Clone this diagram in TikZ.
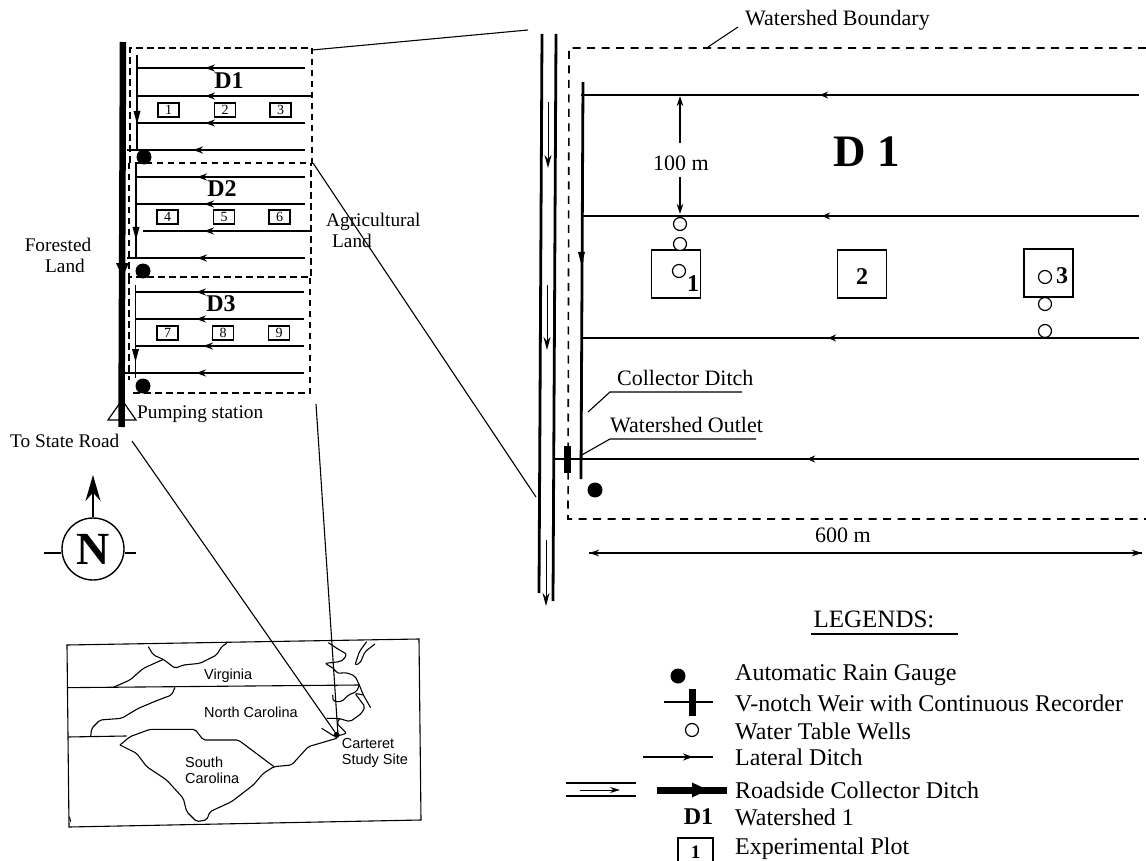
\documentclass[tikz,border=0pt]{standalone}
\usepackage{fontspec}
\setmainfont{Liberation Serif}
\newfontfamily\mapfont{Liberation Sans}
\usetikzlibrary{arrows.meta}

\tikzset{
  ditch/.style={line width=1.9pt},
  bigditch/.style={line width=2.8pt},
  boundary/.style={line width=1.2pt,dash pattern=on 6.5pt off 4.5pt},
  bigboundary/.style={line width=1.6pt,dash pattern=on 8pt off 6.5pt},
  lefttip/.style={-{Stealth[length=10pt,width=7pt]}},
  dimtip/.style={line width=1.2pt,-{Stealth[length=10pt,width=6.5pt]}},
  leader/.style={line width=1.1pt},
  plotbox/.style={draw,line width=1.1pt,inner sep=0pt,minimum width=21pt,minimum height=14pt,font=\fontsize{14}{15}\selectfont},
  bigplot/.style={draw,line width=1.2pt,inner sep=0pt,minimum width=49pt,minimum height=48pt},
  well/.style={draw,fill=white,circle,line width=1.2pt,inner sep=0pt,minimum size=13pt},
  gauge/.style={fill=black,circle,inner sep=0pt,minimum size=15pt},
  lbl/.style={inner sep=0pt,font=\fontsize{19.3}{21}\selectfont},
  wlbl/.style={lbl,anchor=west},
  rlbl/.style={inner sep=0pt,anchor=west,font=\fontsize{22}{24}\selectfont},
  dlbl/.style={inner sep=0pt,font=\fontsize{24}{25}\selectfont\bfseries},
  numlbl/.style={inner sep=0pt,font=\fontsize{24}{25}\selectfont\bfseries},
  maplbl/.style={inner sep=0pt,anchor=west,font=\fontsize{14.5}{16}\selectfont\mapfont},
  mapline/.style={line width=1.1pt,rounded corners=2pt,line join=round},
}

\begin{document}
\begin{tikzpicture}[x=1pt,y=-1pt]
  \useasboundingbox (0,0) rectangle (1146,861);

  % overview: watershed boundaries
  \draw[boundary] (130,163) -- (130,48) -- (312,48) -- (312,163) -- cycle;
  \draw[boundary] (129,163) -- (129,277) -- (311,277) -- (311,163);
  \draw[boundary] (133,393) -- (310,393) -- (310,277);
  \draw[boundary] (129,277) -- (129,380);

  % overview: state road
  \draw[line width=6.5pt] (123,42) -- (121.5,427);
  \fill (116,263) -- (129,263) -- (122.5,277) -- cycle;
  \draw[line width=1.2pt] (108,420) -- (122,400) -- (136,420) -- cycle;

  % overview: collector ditches
  \draw[ditch] (137,55) -- (137,150);
  \draw[ditch] (136,163) -- (136,258);
  \draw[ditch] (135.5,285) -- (135.5,378);
  \foreach \x/\y in {137/124,136/240,135.5/362}
    \fill (\x-3.5,\y-13) -- (\x+3.5,\y-13) -- (\x,\y) -- cycle;

  % overview: lateral ditches, start / end / arrow tip
  \foreach \y/\a/\b/\t in {68/137/305/205,96/137/312/205,123/137/305/205,150/127/305/193,
                           177/136/305/197,204/136/305/204,231/143/311/204,258/127/305/197,
                           292/136/304/196,319/136/304/196,346/136/304/203,373/125/304/196}{
    \draw[ditch] (\b,\y) -- (\a,\y);
    \draw[ditch,lefttip] (\b,\y) -- (\t,\y);
  }

  % overview: plots
  \foreach \n/\x/\y in {1/168.5/110,2/225/110,3/280.5/110,
                        4/167.5/217,5/224/217,6/279.5/217,
                        7/167.5/333,8/223/333,9/279/333}
    \node[plotbox] (plot\n) at (\x,\y) {\n};

  % overview: rain gauges
  \node[gauge] (rainA) at (144,157) {};
  \node[gauge] (rainB) at (143,271) {};
  \node[gauge] (rainC) at (143,386) {};

  % overview: labels
  \node[dlbl] (dOne) at (229,81) {D1};
  \node[dlbl] (dTwo) at (222,189) {D2};
  \node[dlbl] (dThree) at (221,304) {D3};
  \node[lbl,align=center] (forested) at (58,255) {Forested\\[0pt]\hspace*{14pt}Land};
  \node[lbl,align=left,anchor=west] (agri) at (326,230) {Agricultural\\[0pt]\hspace*{6pt}Land};
  \node[wlbl] (pump) at (137,414) {Pumping station};
  \node[wlbl] (stateroad) at (10,441) {To State Road};

  % lines between the views
  \coordinate (boxNE) at (312,50);
  \coordinate (boxSE) at (313,163);
  \coordinate (roadTop) at (528,30);
  \coordinate (roadMid) at (536,497);
  \coordinate (siteA) at (132,441);
  \coordinate (siteB) at (337,735);
  \coordinate (siteC) at (316,404);
  \coordinate (siteD) at (338,735);
  \draw[leader] (boxNE) -- (roadTop);
  \draw[leader] (boxSE) -- (roadMid);
  \draw[leader] (siteA) -- (siteB);
  \draw[leader] (siteC) -- (siteD);

  % north arrow
  \node[draw,circle,line width=1.4pt,minimum size=62pt,inner sep=0pt,font=\fontsize{46}{48}\selectfont\bfseries] (north) at (93,549) {N};
  \coordinate (northTip) at (93,475);
  \coordinate (northW) at (44,553);
  \coordinate (northE) at (136,553);
  \draw[line width=1.4pt,-{Stealth[length=26pt,width=15pt]}] (north.north) -- (northTip);
  \draw[line width=1.2pt] (northW) -- (north.west |- northW);
  \draw[line width=1.2pt] (northE) -- (north.east |- northE);

  % location map
  \draw[line width=1.1pt] (67,645) -- (419,639) -- (421,820) -- (69,827) -- cycle;
  \begin{scope}[shift={(50,630)},x=.3333pt,y=-.3333pt]
    \draw[line width=1.1pt] (52,173) -- (930,165);
    \draw[line width=1.1pt] (55,321) -- (230,318);
    \draw[mapline] (295,50) -- (310,75) -- (340,88) -- (375,115) -- (400,105) -- (450,100) -- (500,75) -- (515,50) -- (530,40);
    \draw[mapline] (340,88) -- (280,115) -- (240,150) -- (190,172);
    \draw[mapline] (375,172) -- (365,195) -- (320,212) -- (265,235) -- (215,265) -- (150,270) -- (125,295) -- (122,320);
    \draw[mapline] (210,345) -- (240,320) -- (300,298) -- (435,298) -- (460,330) -- (565,330) -- (672,410);
    \draw[mapline] (210,345) -- (260,370) -- (290,410) -- (350,450) -- (400,505) -- (410,545) -- (440,575) -- (470,570) -- (480,545) -- (545,515) -- (610,465) -- (640,430) -- (672,410) -- (725,405) -- (775,350) -- (860,325);
    \draw[mapline] (58,560) -- (62,575);
    \node[maplbl] (virginia) at (462,138) {Virginia};
    \node[maplbl] (ncarolina) at (462,246) {North Carolina};
    \node[maplbl,align=left] (scarolina) at (405,421) {South\\[0pt]Carolina};
    \node[maplbl,align=left] (carteret) at (875,368) {Carteret\\[0pt]Study Site};
  \end{scope}
  \begin{scope}[shift={(300,630)},x=.3333pt,y=-.3333pt]
    \draw[mapline] (85,38) -- (115,58) -- (140,72) -- (132,88) -- (120,95) -- (75,100) -- (105,118) -- (110,130) -- (140,128) -- (165,138) -- (178,165) -- (190,195) -- (212,233);
    \draw[mapline] (200,35) -- (178,65) -- (165,105) -- (180,100) -- (195,65) -- (225,42);
    \draw[mapline] (178,165) -- (170,185) -- (145,195) -- (125,215) -- (100,215) -- (98,195);
    \draw[mapline] (190,195) -- (165,190) -- (195,230) -- (185,250) -- (150,275) -- (115,265) -- (80,265);
    \draw[mapline] (120,265) -- (110,280) -- (140,310) -- (105,320) -- (65,295);
    \fill (110,315) circle (9);
  \end{scope}

  % watershed D1: road with its inner flow arrows
  \draw[bigditch] (542,34) -- (539,593);
  \draw[bigditch] (556,34) -- (553,601);
  \foreach \a/\b/\x in {102/168/548,285/350/547,540/606/546}
    \draw[line width=1pt,-{Stealth[length=13pt,width=7pt]}] (\x,\a) -- (\x,\b);

  % watershed D1: boundary
  \draw[bigboundary] (1146,48) -- (569,48) -- (568,519) -- (1146,519);

  % watershed D1: collector ditch and weir
  \draw[bigditch] (583,82) -- (581,479);
  \fill (578,252) -- (585,252) -- (581.5,265) -- cycle;
  \fill (564,446) rectangle (571,473);

  % watershed D1: lateral ditches
  \foreach \y/\a/\t in {95/581/820,216/581/822,338/581/828,459/553/807}{
    \draw[bigditch] (1139,\y) -- (\a,\y);
    \draw[bigditch,-{Stealth[length=8pt,width=7pt]}] (\t+10,\y) -- (\t,\y);
  }

  % watershed D1: plots and wells
  \node[bigplot] (bigA) at (676,274) {};
  \node[bigplot] (bigB) at (862,274) {};
  \node[bigplot] (bigC) at (1048.5,273) {};
  \node[numlbl] (numA) at (693,284) {1};
  \node[numlbl] (numB) at (862,277) {2};
  \node[numlbl] (numC) at (1062,276) {3};
  \foreach \n/\x/\y in {a/680/224,b/680/244,c/679/271,d/1045/277,e/1045/304,f/1045/331}
    \node[well] (well\n) at (\x,\y) {};
  \node[gauge] (rainD) at (595,490) {};

  % watershed D1: dimensions
  \node[rlbl,anchor=center] (hundred) at (681,163) {100 m};
  \coordinate (dimTop) at (680,96);
  \coordinate (dimBot) at (680,214);
  \coordinate (dimTopS) at (680,143);
  \coordinate (dimBotS) at (680,177);
  \draw[dimtip] (dimTopS) -- (dimTop);
  \draw[dimtip] (dimBotS) -- (dimBot);
  \node[rlbl,anchor=center] (sixhundred) at (843,535) {600 m};
  \coordinate (dimL) at (589,553);
  \coordinate (dimR) at (1142,553);
  \draw[dimtip] (dimR) -- (dimL);
  \draw[dimtip] (dimL) -- (dimR);

  % watershed D1: title and labels
  \node[inner sep=0pt,font=\fontsize{45}{46}\selectfont\bfseries] (dBig) at (867,152) {D 1};
  \node[rlbl] (boundaryLbl) at (745,20) {Watershed Boundary};
  \node[rlbl] (collLbl) at (617,378) {Collector Ditch};
  \node[rlbl] (outletLbl) at (610,425) {Watershed Outlet};
  \coordinate (bndA) at (708,47);
  \coordinate (bndB) at (738,27);
  \coordinate (colA) at (588,412);
  \coordinate (colB) at (610,392);
  \coordinate (colC) at (742,392);
  \coordinate (outA) at (580,456);
  \coordinate (outB) at (610,439);
  \coordinate (outC) at (756,439);
  \draw[leader] (bndA) -- (bndB);
  \draw[leader] (colA) -- (colB) -- (colC);
  \draw[leader] (outA) -- (outB) -- (outC);

  % legend
  \node[inner sep=0pt,font=\fontsize{25}{27}\selectfont] (legTitle) at (874,619) {LEGENDS:};
  \coordinate (legA) at (811,634);
  \coordinate (legB) at (958,634);
  \draw[line width=1.1pt] (legA) -- (legB);
  \node[gauge] (legGauge) at (678,676) {};
  \draw[line width=1.8pt] (664,702) -- (713,702);
  \draw[line width=7pt] (692,689) -- (692,716);
  \node[well] (legWell) at (692,730) {};
  \draw[ditch] (643,757) -- (713,757);
  \draw[ditch,lefttip] (670,757) -- (693,757);
  \draw[line width=2.4pt] (566,783) -- (636,783);
  \draw[line width=2.4pt] (566,796) -- (636,796);
  \draw[line width=1pt,-{Stealth[length=10pt,width=6pt]}] (580,790) -- (620,790);
  \draw[line width=7pt] (657,790) -- (727,790);
  \fill (692,782.5) -- (708,790) -- (692,797.5) -- cycle;
  \node[dlbl] (legD) at (698.5,817) {D1};
  \node[draw,line width=1.2pt,inner sep=0pt,minimum width=35pt,minimum height=28pt,font=\fontsize{19}{20}\selectfont\bfseries] (legPlot) at (695.5,852) {1};
  \foreach \n/\y/\t in {a/675/Automatic Rain Gauge,
                        b/703/V-notch Weir with Continuous Recorder,
                        c/731/Water Table Wells,
                        d/757/Lateral Ditch,
                        e/790/Roadside Collector Ditch,
                        f/817/Watershed 1,
                        g/849/Experimental Plot}
    \node[rlbl,font=\fontsize{24}{25}\selectfont] (leg\n) at (735,\y) {\t};

\end{tikzpicture}
\end{document}
